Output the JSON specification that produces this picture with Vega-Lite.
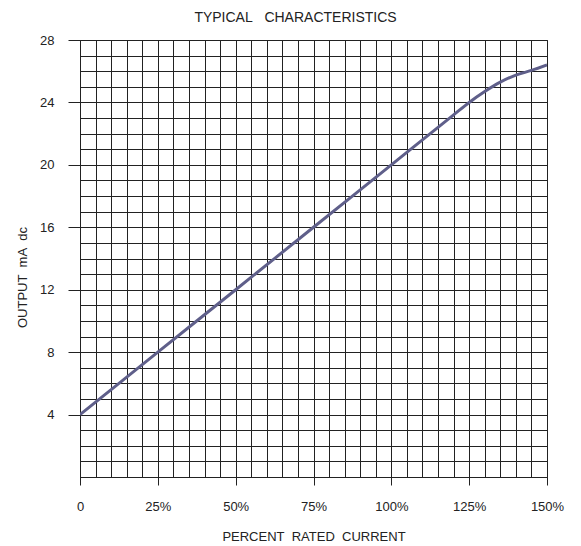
{
  "$schema": "https://vega.github.io/schema/vega-lite/v6.json",
  "width": 467,
  "height": 437,
  "autosize": {"type": "none"},
  "padding": {"left": 80, "top": 40, "right": 34, "bottom": 69},
  "background": "white",
  "title": {
    "text": "TYPICAL\u00a0\u00a0\u00a0CHARACTERISTICS",
    "font": "Liberation Sans",
    "fontSize": 14,
    "fontWeight": "normal",
    "color": "#222",
    "anchor": "middle",
    "dx": -18,
    "offset": 9
  },
  "config": {
    "view": {"stroke": "#222", "strokeWidth": 1},
    "axis": {
      "labelFont": "Liberation Sans",
      "labelFontSize": 13,
      "labelColor": "#222",
      "titleFont": "Liberation Sans",
      "titleFontSize": 13,
      "titleFontWeight": "normal",
      "titleColor": "#222",
      "domainColor": "#222",
      "gridColor": "#222",
      "gridOpacity": 1,
      "gridWidth": 1
    }
  },
  "data": {
    "values": [
      {"pct": 0, "ma": 4},
      {"pct": 25, "ma": 8},
      {"pct": 50, "ma": 12},
      {"pct": 75, "ma": 16},
      {"pct": 100, "ma": 20},
      {"pct": 120, "ma": 23.2},
      {"pct": 125, "ma": 24},
      {"pct": 130, "ma": 24.7},
      {"pct": 135, "ma": 25.3},
      {"pct": 140, "ma": 25.75},
      {"pct": 145, "ma": 26.05},
      {"pct": 150, "ma": 26.4}
    ]
  },
  "mark": {"type": "line", "color": "#5f5f8a", "strokeWidth": 3, "interpolate": "monotone", "clip": true},
  "encoding": {
    "x": {
      "field": "pct",
      "type": "quantitative",
      "scale": {"domain": [0, 150], "nice": false, "zero": false},
      "axis": {
        "title": "PERCENT\u00a0\u00a0RATED\u00a0\u00a0CURRENT",
        "titlePadding": 17,
        "values": [0, 5, 10, 15, 20, 25, 30, 35, 40, 45, 50, 55, 60, 65, 70, 75, 80, 85, 90, 95, 100, 105, 110, 115, 120, 125, 130, 135, 140, 145, 150],
        "grid": true,
        "tickSize": 8,
        "tickColor": {"condition": {"test": "datum.value % 25 === 0", "value": "#222"}, "value": "transparent"},
        "labelPadding": 15,
        "labelFlush": false,
        "labelOverlap": false,
        "labelExpr": "datum.value % 25 === 0 ? (datum.value === 0 ? '0' : datum.value + '%') : ''"
      }
    },
    "y": {
      "field": "ma",
      "type": "quantitative",
      "scale": {"domain": [0, 28], "nice": false},
      "axis": {
        "title": "OUTPUT\u00a0\u00a0mA\u00a0\u00a0dc",
        "titleAngle": 270,
        "titleX": -58,
        "titleY": 237,
        "titleAlign": "center",
        "titleBaseline": "middle",
        "values": [0, 1, 2, 3, 4, 5, 6, 7, 8, 9, 10, 11, 12, 13, 14, 15, 16, 17, 18, 19, 20, 21, 22, 23, 24, 25, 26, 27, 28],
        "grid": true,
        "tickSize": 12,
        "tickColor": {"condition": {"test": "datum.value % 4 === 0 && datum.value > 0", "value": "#222"}, "value": "transparent"},
        "labelPadding": 14,
        "labelFlush": false,
        "labelOverlap": false,
        "labelExpr": "datum.value % 4 === 0 && datum.value > 0 ? datum.label : ''"
      }
    }
  }
}
